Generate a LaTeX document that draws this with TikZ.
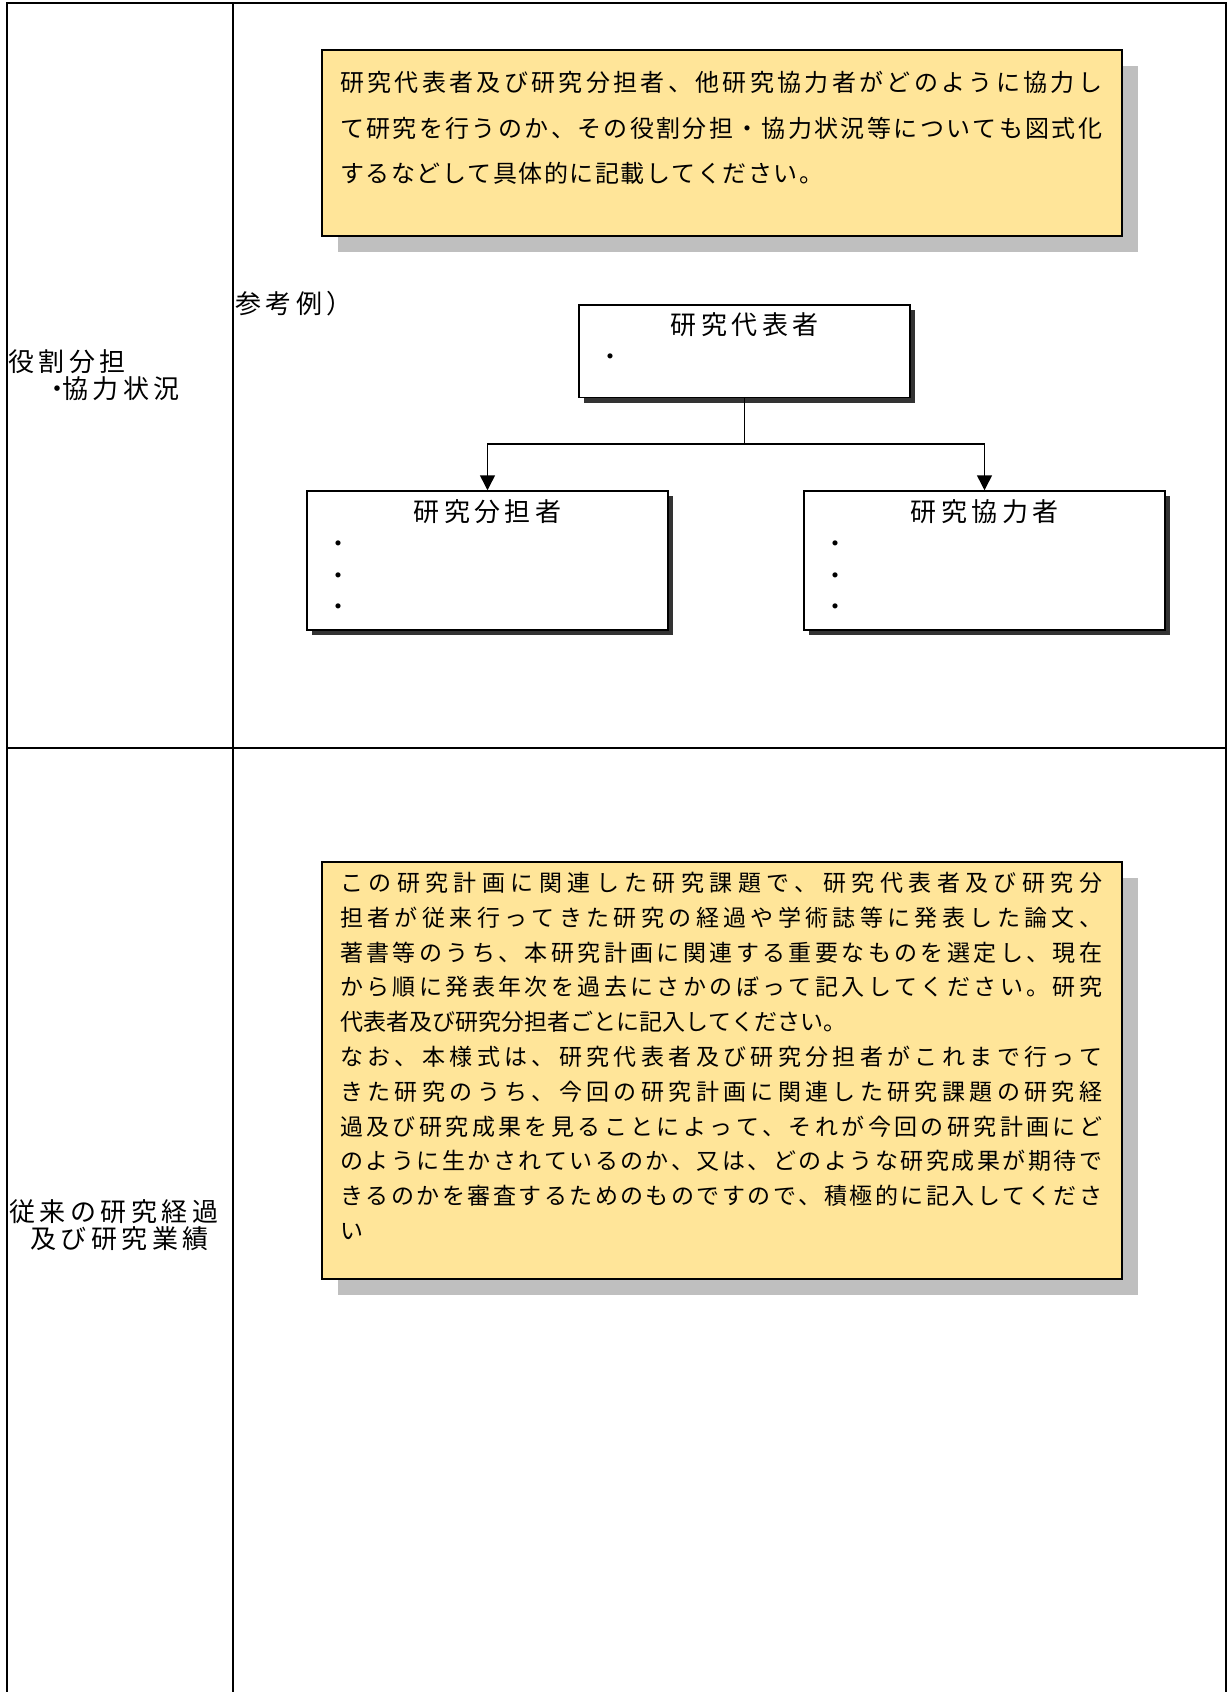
\documentclass[tikz,border=0pt]{standalone}
\usepackage{fontspec}
\setmainfont{Noto Sans CJK JP}
\usetikzlibrary{arrows.meta,calc,positioning,shadows}
% even spacing between Japanese characters
\newdimen\jgap
\makeatletter
\def\jsp#1{\jsp@first#1\@nil}
\def\jsp@first#1{#1\jsp@next}
\def\jsp@next#1{\ifx#1\@nil\else\hskip\jgap plus 8pt minus 1pt\relax#1\expandafter\jsp@next\fi}
\makeatother
\newcommand{\jline}[1]{\makebox[762pt][s]{\jsp{#1}}}
\definecolor{notefill}{RGB}{255,229,153}
\definecolor{noteshade}{RGB}{191,191,191}
\newcommand{\gothic}{\fontsize{26}{27}\selectfont\jgap=4.5pt\relax}
\newcommand{\notefont}[3]{\fontsize{#1}{#2}\selectfont\jgap=#3\relax}
\tikzset{
  tableline/.style={line width=2pt},
  lefttext/.style={inner sep=0pt,anchor=north west,align=left,font=\gothic},
  gothictext/.style={inner sep=0pt,text height=22.9pt,text depth=3.1pt,font=\gothic},
  notebox/.style={draw,line width=2pt,fill=notefill,inner sep=0pt,
    drop shadow={shadow xshift=16.5pt,shadow yshift=-16pt,fill=noteshade,opacity=1}},
  notetext/.style={inner sep=0pt,anchor=north west,align=left},
  rolebox/.style={draw,line width=1.5pt,fill=white,inner sep=0pt,
    minimum width=361pt,minimum height=139pt,
    drop shadow={shadow xshift=5pt,shadow yshift=-5pt,fill=black!80,opacity=1}},
  dot/.style={inner sep=0pt,text height=21.1pt,text depth=2.9pt,font=\fontsize{24}{24}\selectfont},
  link/.style={line width=1.5pt},
  arrow/.style={link,-{Triangle[length=15pt,width=15pt]}}
}

\begin{document}
\begin{tikzpicture}[x=1pt,y=-1pt]
      \useasboundingbox (0,0) rectangle (1227,1692);
      % table
      \draw[tableline] (7,1692)--(7,3)--(1226,3)--(1226,1692);
      \draw[tableline] (232.5,3)--(232.5,1692);
      \draw[tableline] (7,747.5)--(1226,747.5);
      % left column
      \node[lefttext] (role) at (8,349.5) {\jsp{役割分担}\\\hspace*{36pt}・\hspace{-8pt}\jsp{協力状況}};
      \node[lefttext] (career) at (9,1199) {\jsp{従来の研究経過}\\\hspace*{21pt}\jsp{及び研究業績}};
      % note 1
      \node[notebox,minimum width=800pt,minimum height=185.5pt] (note1) at (721.5,142.75) {};
      \node[notetext,font=\notefont{24}{45.5}{1.5pt}] (note1txt) at (340,71) {%
        \jline{研究代表者及び研究分担者、他研究協力者がどのように協力し}\\
        \jline{て研究を行うのか、その役割分担・協力状況等についても図式化}\\
        \jsp{するなどして具体的に記載してください。}};
      % example chart
      \node[gothictext,anchor=west] (example) at (235,304) {\jsp{参考例）}};
      \node[rolebox,minimum width=331pt,minimum height=92.5pt] (rep) at (744.5,351.25) {};
      \node[rolebox] (share) at (487.5,560.5) {};
      \node[rolebox] (coop) at (984.5,560.5) {};
      \node[gothictext] (reptitle) at (744.5,325) {\jsp{研究代表者}};
      \node[gothictext] (sharetitle) at (487.5,512) {\jsp{研究分担者}};
      \node[gothictext] (cooptitle) at (984.5,512) {\jsp{研究協力者}};
      \node[dot] (repdot) at (610,356) {・};
      \foreach \y in {543,575,606}{
        \node[dot] (sharedot\y) at (338.5,\y) {・};
        \node[dot] (coopdot\y) at (835,\y) {・};
      }
      % links
      \coordinate (fork) at (744.5,444);
      \draw[link] (rep.south)--(fork);
      \draw[arrow] (fork)-|(share.north);
      \draw[arrow] (fork)-|(coop.north);
      % note 2
      \node[notebox,minimum width=800pt,minimum height=417.5pt] (note2) at (721.5,1070.25) {};
      \node[notetext,font=\notefont{23}{34.8}{0pt}] (note2txt) at (340,872) {%
        \jline{この研究計画に関連した研究課題で、研究代表者及び研究分}\\
        \jline{担者が従来行ってきた研究の経過や学術誌等に発表した論文、}\\
        \jline{著書等のうち、本研究計画に関連する重要なものを選定し、現在}\\
        \jline{から順に発表年次を過去にさかのぼって記入してください。研究}\\
        \jsp{代表者及び研究分担者ごとに記入してください。}\\
        \jline{なお、本様式は、研究代表者及び研究分担者がこれまで行って}\\
        \jline{きた研究のうち、今回の研究計画に関連した研究課題の研究経}\\
        \jline{過及び研究成果を見ることによって、それが今回の研究計画にど}\\
        \jline{のように生かされているのか、又は、どのような研究成果が期待で}\\
        \jline{きるのかを審査するためのものですので、積極的に記入してくださ}\\
        い};
\end{tikzpicture}
\end{document}
